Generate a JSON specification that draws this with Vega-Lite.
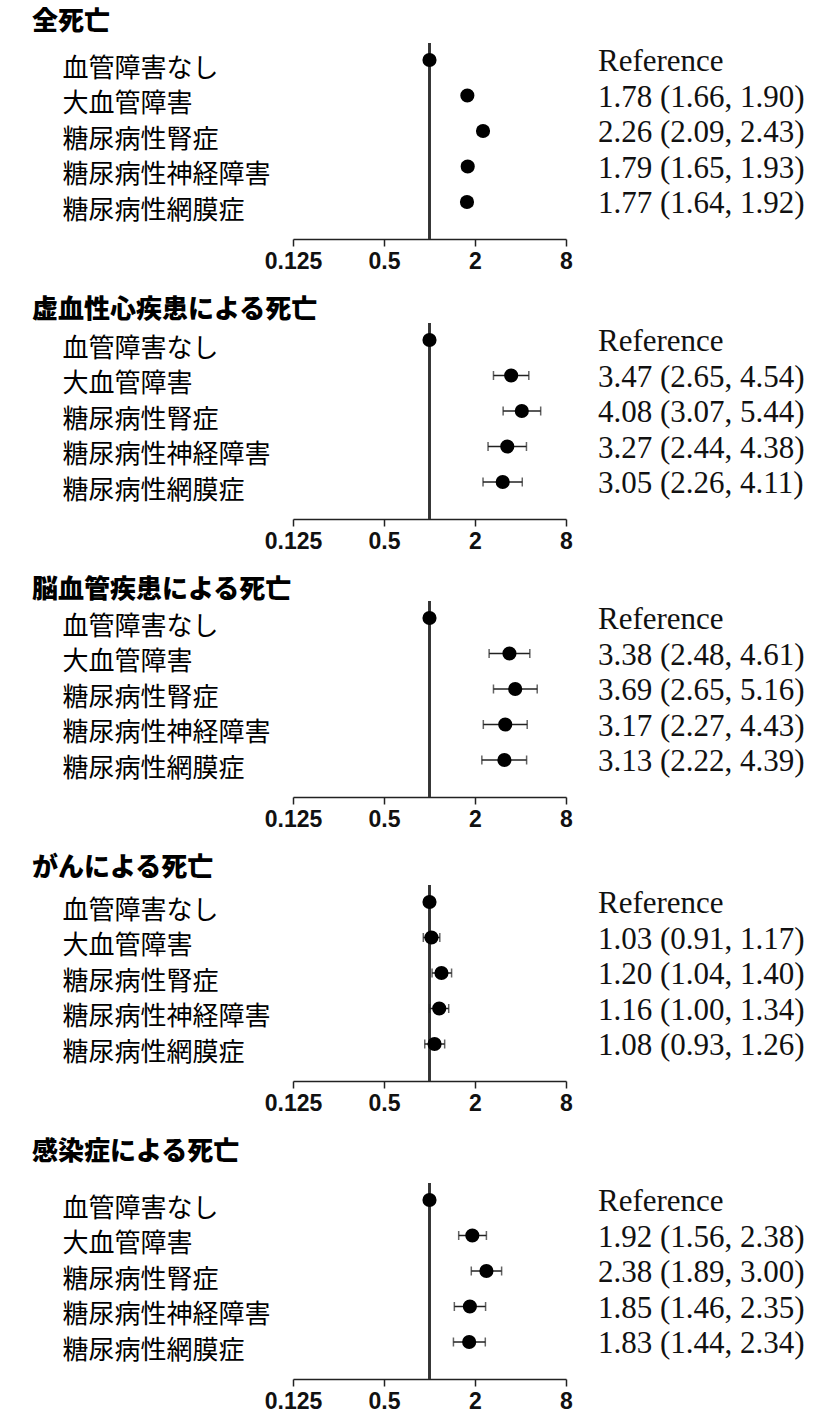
{
  "$schema": "https://vega.github.io/schema/vega-lite/v6.json",
  "background": "white",
  "padding": {"left": 32, "top": 9, "right": 0, "bottom": 4},
  "data": {
    "values": [
      {"p": 1, "g": "血管障害なし", "est": 1, "lo": null, "hi": null, "txt": "Reference"},
      {"p": 1, "g": "大血管障害", "est": 1.78, "lo": 1.66, "hi": 1.90, "txt": "1.78 (1.66, 1.90)"},
      {"p": 1, "g": "糖尿病性腎症", "est": 2.26, "lo": 2.09, "hi": 2.43, "txt": "2.26 (2.09, 2.43)"},
      {"p": 1, "g": "糖尿病性神経障害", "est": 1.79, "lo": 1.65, "hi": 1.93, "txt": "1.79 (1.65, 1.93)"},
      {"p": 1, "g": "糖尿病性網膜症", "est": 1.77, "lo": 1.64, "hi": 1.92, "txt": "1.77 (1.64, 1.92)"},
      {"p": 2, "g": "血管障害なし", "est": 1, "lo": null, "hi": null, "txt": "Reference"},
      {"p": 2, "g": "大血管障害", "est": 3.47, "lo": 2.65, "hi": 4.54, "txt": "3.47 (2.65, 4.54)"},
      {"p": 2, "g": "糖尿病性腎症", "est": 4.08, "lo": 3.07, "hi": 5.44, "txt": "4.08 (3.07, 5.44)"},
      {"p": 2, "g": "糖尿病性神経障害", "est": 3.27, "lo": 2.44, "hi": 4.38, "txt": "3.27 (2.44, 4.38)"},
      {"p": 2, "g": "糖尿病性網膜症", "est": 3.05, "lo": 2.26, "hi": 4.11, "txt": "3.05 (2.26, 4.11)"},
      {"p": 3, "g": "血管障害なし", "est": 1, "lo": null, "hi": null, "txt": "Reference"},
      {"p": 3, "g": "大血管障害", "est": 3.38, "lo": 2.48, "hi": 4.61, "txt": "3.38 (2.48, 4.61)"},
      {"p": 3, "g": "糖尿病性腎症", "est": 3.69, "lo": 2.65, "hi": 5.16, "txt": "3.69 (2.65, 5.16)"},
      {"p": 3, "g": "糖尿病性神経障害", "est": 3.17, "lo": 2.27, "hi": 4.43, "txt": "3.17 (2.27, 4.43)"},
      {"p": 3, "g": "糖尿病性網膜症", "est": 3.13, "lo": 2.22, "hi": 4.39, "txt": "3.13 (2.22, 4.39)"},
      {"p": 4, "g": "血管障害なし", "est": 1, "lo": null, "hi": null, "txt": "Reference"},
      {"p": 4, "g": "大血管障害", "est": 1.03, "lo": 0.91, "hi": 1.17, "txt": "1.03 (0.91, 1.17)"},
      {"p": 4, "g": "糖尿病性腎症", "est": 1.20, "lo": 1.04, "hi": 1.40, "txt": "1.20 (1.04, 1.40)"},
      {"p": 4, "g": "糖尿病性神経障害", "est": 1.16, "lo": 1.00, "hi": 1.34, "txt": "1.16 (1.00, 1.34)"},
      {"p": 4, "g": "糖尿病性網膜症", "est": 1.08, "lo": 0.93, "hi": 1.26, "txt": "1.08 (0.93, 1.26)"},
      {"p": 5, "g": "血管障害なし", "est": 1, "lo": null, "hi": null, "txt": "Reference"},
      {"p": 5, "g": "大血管障害", "est": 1.92, "lo": 1.56, "hi": 2.38, "txt": "1.92 (1.56, 2.38)"},
      {"p": 5, "g": "糖尿病性腎症", "est": 2.38, "lo": 1.89, "hi": 3.00, "txt": "2.38 (1.89, 3.00)"},
      {"p": 5, "g": "糖尿病性神経障害", "est": 1.85, "lo": 1.46, "hi": 2.35, "txt": "1.85 (1.46, 2.35)"},
      {"p": 5, "g": "糖尿病性網膜症", "est": 1.83, "lo": 1.44, "hi": 2.34, "txt": "1.83 (1.44, 2.34)"}
    ]
  },
  "spacing": 24,
  "vconcat": [
    {
      "title": {"text": "全死亡", "offset": 7},
      "width": 273, "height": 196,
      "transform": [{"filter": "datum.p == 1"}],
      "layer": [
        {"mark": {"type": "rule", "color": "#333", "strokeWidth": 2}, "encoding": {"x": {"datum": 1, "type": "quantitative", "scale": {"type": "log", "base": 2, "domain": [0.125, 8]}, "axis": {"values": [0.125, 0.5, 2, 8]}, "title": null}}},
        {"mark": {"type": "rule", "color": "#222", "strokeWidth": 1.5}, "encoding": {"x": {"field": "lo", "type": "quantitative", "title": null}, "x2": {"field": "hi"}, "y": {"field": "g", "type": "nominal", "sort": null, "scale": {"type": "point", "padding": 0, "domain": ["血管障害なし", "大血管障害", "糖尿病性腎症", "糖尿病性神経障害", "糖尿病性網膜症"], "range": [17, 159]}, "title": null}}},
        {"mark": {"type": "tick", "color": "#222", "size": 9, "thickness": 1.5}, "encoding": {"x": {"field": "lo", "type": "quantitative", "title": null}, "y": {"field": "g", "type": "nominal", "sort": null, "title": null}}},
        {"mark": {"type": "tick", "color": "#222", "size": 9, "thickness": 1.5}, "encoding": {"x": {"field": "hi", "type": "quantitative", "title": null}, "y": {"field": "g", "type": "nominal", "sort": null, "title": null}}},
        {"mark": {"type": "circle", "size": 200, "color": "black", "opacity": 1}, "encoding": {"x": {"field": "est", "type": "quantitative", "title": null}, "y": {"field": "g", "type": "nominal", "sort": null, "title": null}}},
        {"mark": {"type": "text", "align": "left", "baseline": "middle", "dx": 32, "dy": 2, "font": "Liberation Serif", "fontSize": 31, "color": "#111"}, "encoding": {"x": {"datum": 8, "type": "quantitative"}, "y": {"field": "g", "type": "nominal", "sort": null, "title": null}, "text": {"field": "txt"}}}
      ]
    },
    {
      "title": {"text": "虚血性心疾患による死亡", "offset": -1},
      "width": 273, "height": 196,
      "transform": [{"filter": "datum.p == 2"}],
      "layer": [
        {"mark": {"type": "rule", "color": "#333", "strokeWidth": 2}, "encoding": {"x": {"datum": 1, "type": "quantitative", "scale": {"type": "log", "base": 2, "domain": [0.125, 8]}, "axis": {"values": [0.125, 0.5, 2, 8]}, "title": null}}},
        {"mark": {"type": "rule", "color": "#222", "strokeWidth": 1.5}, "encoding": {"x": {"field": "lo", "type": "quantitative", "title": null}, "x2": {"field": "hi"}, "y": {"field": "g", "type": "nominal", "sort": null, "scale": {"type": "point", "padding": 0, "domain": ["血管障害なし", "大血管障害", "糖尿病性腎症", "糖尿病性神経障害", "糖尿病性網膜症"], "range": [17, 159]}, "title": null}}},
        {"mark": {"type": "tick", "color": "#222", "size": 9, "thickness": 1.5}, "encoding": {"x": {"field": "lo", "type": "quantitative", "title": null}, "y": {"field": "g", "type": "nominal", "sort": null, "title": null}}},
        {"mark": {"type": "tick", "color": "#222", "size": 9, "thickness": 1.5}, "encoding": {"x": {"field": "hi", "type": "quantitative", "title": null}, "y": {"field": "g", "type": "nominal", "sort": null, "title": null}}},
        {"mark": {"type": "circle", "size": 200, "color": "black", "opacity": 1}, "encoding": {"x": {"field": "est", "type": "quantitative", "title": null}, "y": {"field": "g", "type": "nominal", "sort": null, "title": null}}},
        {"mark": {"type": "text", "align": "left", "baseline": "middle", "dx": 32, "dy": 2, "font": "Liberation Serif", "fontSize": 31, "color": "#111"}, "encoding": {"x": {"datum": 8, "type": "quantitative"}, "y": {"field": "g", "type": "nominal", "sort": null, "title": null}, "text": {"field": "txt"}}}
      ]
    },
    {
      "title": {"text": "脳血管疾患による死亡", "offset": -3},
      "width": 273, "height": 196,
      "transform": [{"filter": "datum.p == 3"}],
      "layer": [
        {"mark": {"type": "rule", "color": "#333", "strokeWidth": 2}, "encoding": {"x": {"datum": 1, "type": "quantitative", "scale": {"type": "log", "base": 2, "domain": [0.125, 8]}, "axis": {"values": [0.125, 0.5, 2, 8]}, "title": null}}},
        {"mark": {"type": "rule", "color": "#222", "strokeWidth": 1.5}, "encoding": {"x": {"field": "lo", "type": "quantitative", "title": null}, "x2": {"field": "hi"}, "y": {"field": "g", "type": "nominal", "sort": null, "scale": {"type": "point", "padding": 0, "domain": ["血管障害なし", "大血管障害", "糖尿病性腎症", "糖尿病性神経障害", "糖尿病性網膜症"], "range": [17, 159]}, "title": null}}},
        {"mark": {"type": "tick", "color": "#222", "size": 9, "thickness": 1.5}, "encoding": {"x": {"field": "lo", "type": "quantitative", "title": null}, "y": {"field": "g", "type": "nominal", "sort": null, "title": null}}},
        {"mark": {"type": "tick", "color": "#222", "size": 9, "thickness": 1.5}, "encoding": {"x": {"field": "hi", "type": "quantitative", "title": null}, "y": {"field": "g", "type": "nominal", "sort": null, "title": null}}},
        {"mark": {"type": "circle", "size": 200, "color": "black", "opacity": 1}, "encoding": {"x": {"field": "est", "type": "quantitative", "title": null}, "y": {"field": "g", "type": "nominal", "sort": null, "title": null}}},
        {"mark": {"type": "text", "align": "left", "baseline": "middle", "dx": 32, "dy": 2, "font": "Liberation Serif", "fontSize": 31, "color": "#111"}, "encoding": {"x": {"datum": 8, "type": "quantitative"}, "y": {"field": "g", "type": "nominal", "sort": null, "title": null}, "text": {"field": "txt"}}}
      ]
    },
    {
      "title": {"text": "がんによる死亡", "offset": 3},
      "width": 273, "height": 196,
      "transform": [{"filter": "datum.p == 4"}],
      "layer": [
        {"mark": {"type": "rule", "color": "#333", "strokeWidth": 2}, "encoding": {"x": {"datum": 1, "type": "quantitative", "scale": {"type": "log", "base": 2, "domain": [0.125, 8]}, "axis": {"values": [0.125, 0.5, 2, 8]}, "title": null}}},
        {"mark": {"type": "rule", "color": "#222", "strokeWidth": 1.5}, "encoding": {"x": {"field": "lo", "type": "quantitative", "title": null}, "x2": {"field": "hi"}, "y": {"field": "g", "type": "nominal", "sort": null, "scale": {"type": "point", "padding": 0, "domain": ["血管障害なし", "大血管障害", "糖尿病性腎症", "糖尿病性神経障害", "糖尿病性網膜症"], "range": [17, 159]}, "title": null}}},
        {"mark": {"type": "tick", "color": "#222", "size": 9, "thickness": 1.5}, "encoding": {"x": {"field": "lo", "type": "quantitative", "title": null}, "y": {"field": "g", "type": "nominal", "sort": null, "title": null}}},
        {"mark": {"type": "tick", "color": "#222", "size": 9, "thickness": 1.5}, "encoding": {"x": {"field": "hi", "type": "quantitative", "title": null}, "y": {"field": "g", "type": "nominal", "sort": null, "title": null}}},
        {"mark": {"type": "circle", "size": 200, "color": "black", "opacity": 1}, "encoding": {"x": {"field": "est", "type": "quantitative", "title": null}, "y": {"field": "g", "type": "nominal", "sort": null, "title": null}}},
        {"mark": {"type": "text", "align": "left", "baseline": "middle", "dx": 32, "dy": 2, "font": "Liberation Serif", "fontSize": 31, "color": "#111"}, "encoding": {"x": {"datum": 8, "type": "quantitative"}, "y": {"field": "g", "type": "nominal", "sort": null, "title": null}, "text": {"field": "txt"}}}
      ]
    },
    {
      "title": {"text": "感染症による死亡", "offset": 17},
      "width": 273, "height": 196,
      "transform": [{"filter": "datum.p == 5"}],
      "layer": [
        {"mark": {"type": "rule", "color": "#333", "strokeWidth": 2}, "encoding": {"x": {"datum": 1, "type": "quantitative", "scale": {"type": "log", "base": 2, "domain": [0.125, 8]}, "axis": {"values": [0.125, 0.5, 2, 8]}, "title": null}}},
        {"mark": {"type": "rule", "color": "#222", "strokeWidth": 1.5}, "encoding": {"x": {"field": "lo", "type": "quantitative", "title": null}, "x2": {"field": "hi"}, "y": {"field": "g", "type": "nominal", "sort": null, "scale": {"type": "point", "padding": 0, "domain": ["血管障害なし", "大血管障害", "糖尿病性腎症", "糖尿病性神経障害", "糖尿病性網膜症"], "range": [17, 159]}, "title": null}}},
        {"mark": {"type": "tick", "color": "#222", "size": 9, "thickness": 1.5}, "encoding": {"x": {"field": "lo", "type": "quantitative", "title": null}, "y": {"field": "g", "type": "nominal", "sort": null, "title": null}}},
        {"mark": {"type": "tick", "color": "#222", "size": 9, "thickness": 1.5}, "encoding": {"x": {"field": "hi", "type": "quantitative", "title": null}, "y": {"field": "g", "type": "nominal", "sort": null, "title": null}}},
        {"mark": {"type": "circle", "size": 200, "color": "black", "opacity": 1}, "encoding": {"x": {"field": "est", "type": "quantitative", "title": null}, "y": {"field": "g", "type": "nominal", "sort": null, "title": null}}},
        {"mark": {"type": "text", "align": "left", "baseline": "middle", "dx": 32, "dy": 2, "font": "Liberation Serif", "fontSize": 31, "color": "#111"}, "encoding": {"x": {"datum": 8, "type": "quantitative"}, "y": {"field": "g", "type": "nominal", "sort": null, "title": null}, "text": {"field": "txt"}}}
      ]
    }
  ],
  "config": {
    "view": {"stroke": null},
    "title": {"font": "Noto Sans CJK JP", "fontSize": 26, "fontWeight": 900, "color": "black", "anchor": "start", "frame": "group", "dx": -261},
    "axisX": {
      "format": "~g", "grid": false,
      "domainColor": "#222", "domainWidth": 1.5, "tickColor": "#222", "tickWidth": 1.5, "tickSize": 7,
      "labelFont": "Liberation Sans", "labelFontWeight": "bold", "labelFontSize": 23, "labelColor": "#111",
      "labelPadding": 4, "labelFlush": false, "labelOverlap": false
    },
    "axisY": {
      "domain": false, "ticks": false, "tickSize": 0, "grid": false,
      "labelAlign": "left", "labelBaseline": "middle", "labelPadding": 231, "labelOffset": 8, "labelLimit": 0,
      "labelFont": "Noto Sans CJK JP", "labelFontSize": 26, "labelColor": "black"
    }
  }
}
